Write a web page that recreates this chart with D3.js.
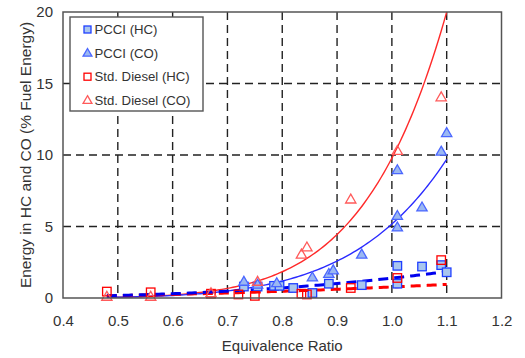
<!DOCTYPE html>
<html>
<head>
<meta charset="utf-8">
<script src="https://cdn.jsdelivr.net/npm/d3@7"></script>
<style>
  body { margin: 0; background: #fff; }
  svg { display: block; }
  text { font-family: "Liberation Sans", Arial, sans-serif; fill: #333; }
</style>
</head>
<body>
<svg id="chart" width="525" height="358"></svg>
<script>
// Axis ticks
const xTicks = [0.4, 0.5, 0.6, 0.7, 0.8, 0.9, 1.0, 1.1, 1.2];
const yTicks = [0, 5, 10, 15, 20];

// Measured points: [equivalence ratio, energy %]
const pcciHC = [
  [0.73, 0.8], [0.755, 0.8], [0.785, 0.85], [0.795, 0.85], [0.82, 0.7],
  [0.855, 0.35], [0.885, 1.0], [0.945, 0.9], [1.01, 2.25], [1.01, 1.0],
  [1.055, 2.2], [1.09, 2.3], [1.1, 1.8]
];
const pcciCO = [
  [0.73, 1.1], [0.755, 0.9], [0.79, 1.0], [0.855, 1.4], [0.885, 1.65],
  [0.893, 1.9], [0.945, 3.0], [1.01, 4.9], [1.01, 5.7], [1.01, 8.9],
  [1.055, 6.3], [1.09, 10.2], [1.1, 11.5]
];
const dieselHC = [
  [0.48, 0.45], [0.56, 0.4], [0.67, 0.3], [0.72, 0.25], [0.75, 0.15],
  [0.835, 0.3], [0.845, 0.25], [0.925, 0.7], [1.01, 1.4], [1.09, 2.65]
];
const dieselCO = [
  [0.48, 0.05], [0.56, 0.05], [0.67, 0.3], [0.755, 1.1], [0.835, 3.0],
  [0.845, 3.5], [0.925, 6.85], [1.01, 10.25], [1.09, 14.0]
];

// Power-law trendlines: value = k * (phi / 1.1)^n, drawn over phi range
const fitRange = [0.48, 1.1];
const fitPcciHC   = { k: 1.85, n: 3.0 };
const fitPcciCO   = { k: 9.7,  n: 6.6 };
const fitDieselHC = { k: 0.95, n: 2.2 };
const fitDieselCO = { k: 20.0, n: 7.5 };

const legendLabels = ["PCCI (HC)", "PCCI (CO)", "Std. Diesel (HC)", "Std. Diesel (CO)"];

const svg = d3.select("#chart");
const x = d3.scaleLinear().domain([0.4, 1.2]).range([63, 501.5]);
const y = d3.scaleLinear().domain([0, 20]).range([298, 12]);

// Grid
const grid = svg.append("g").attr("stroke", "#222").attr("stroke-width", 1.4)
  .attr("stroke-dasharray", "8,5");
grid.selectAll("line.v").data(xTicks.slice(1, -1)).join("line")
  .attr("x1", d => x(d)).attr("x2", d => x(d))
  .attr("y1", y(20)).attr("y2", y(0));
grid.selectAll("line.h").data(yTicks.slice(1, -1)).join("line")
  .attr("x1", x(0.4)).attr("x2", x(1.2))
  .attr("y1", d => y(d)).attr("y2", d => y(d));

// Trendlines
const plot = svg.append("g");
function fitCurve(f) {
  const pts = d3.range(fitRange[0], fitRange[1] + 1e-9, 0.005).map(p => [p, f.k * Math.pow(p / 1.1, f.n)]);
  return d3.line().x(d => x(d[0])).y(d => y(d[1]))(pts);
}
plot.append("path").attr("d", fitCurve(fitDieselCO)).attr("fill", "none")
  .attr("stroke", "#ff2a2a").attr("stroke-width", 1.4);
plot.append("path").attr("d", fitCurve(fitPcciCO)).attr("fill", "none")
  .attr("stroke", "#2a2aff").attr("stroke-width", 1.4);
plot.append("path").attr("d", fitCurve(fitDieselHC)).attr("fill", "none")
  .attr("stroke", "#ff0000").attr("stroke-width", 3).attr("stroke-dasharray", "10,6");
plot.append("path").attr("d", fitCurve(fitPcciHC)).attr("fill", "none")
  .attr("stroke", "#0000ee").attr("stroke-width", 3).attr("stroke-dasharray", "10,6");

// Markers
const sq = 8.5;
const tri = d3.symbol().type(d3.symbolTriangle).size(46);
const styles = {
  pcciHC:   { fill: "#a9c6ee", stroke: "#1f3fff" },
  pcciCO:   { fill: "#9bb8f2", stroke: "#4a66ff" },
  dieselHC: { fill: "none",    stroke: "#ff0000" },
  dieselCO: { fill: "none",    stroke: "#ff5a5a" }
};
function squares(data, s) {
  plot.append("g").selectAll("rect").data(data).join("rect")
    .attr("x", d => x(d[0]) - sq / 2).attr("y", d => y(d[1]) - sq / 2)
    .attr("width", sq).attr("height", sq)
    .attr("fill", s.fill).attr("stroke", s.stroke).attr("stroke-width", 1.3);
}
function triangles(data, s) {
  plot.append("g").selectAll("path").data(data).join("path")
    .attr("d", tri).attr("transform", d => `translate(${x(d[0])},${y(d[1])})`)
    .attr("fill", s.fill).attr("stroke", s.stroke).attr("stroke-width", 1.3);
}
squares(pcciHC, styles.pcciHC);
triangles(pcciCO, styles.pcciCO);
squares(dieselHC, styles.dieselHC);
triangles(dieselCO, styles.dieselCO);

// Plot frame
svg.append("rect").attr("x", x(0.4)).attr("y", y(20))
  .attr("width", x(1.2) - x(0.4)).attr("height", y(0) - y(20))
  .attr("fill", "none").attr("stroke", "#555").attr("stroke-width", 1.5);

// Axes
const xAxis = svg.append("g").attr("transform", `translate(0,${y(0)})`)
  .call(d3.axisBottom(x).tickValues(xTicks).tickFormat(d3.format(".1f")).tickSize(0).tickPadding(17));
const yAxis = svg.append("g").attr("transform", `translate(${x(0.4)},0)`)
  .call(d3.axisLeft(y).tickValues(yTicks).tickSize(0).tickPadding(10));
[xAxis, yAxis].forEach(a => {
  a.select(".domain").remove();
  a.selectAll("text").attr("font-size", 15).attr("fill", "#333")
    .style("font-family", '"Liberation Sans", Arial, sans-serif');
});

svg.append("text").attr("x", (x(0.4) + x(1.2)) / 2).attr("y", 351)
  .attr("text-anchor", "middle").attr("font-size", 15).text("Equivalence Ratio");
svg.append("text").attr("transform", `translate(31,${(y(0) + y(20)) / 2}) rotate(-90)`)
  .attr("text-anchor", "middle").attr("font-size", 15.5)
  .text("Energy in HC and CO (% Fuel Energy)");

// Legend
const lg = svg.append("g");
lg.append("rect").attr("x", 70).attr("y", 17).attr("width", 133).attr("height", 94)
  .attr("fill", "#fff").attr("stroke", "#555").attr("stroke-width", 1.4);
const legendStyle = [styles.pcciHC, styles.pcciCO, styles.dieselHC, styles.dieselCO];
const legendShape = ["sq", "tri", "sq", "tri"];
legendLabels.forEach((lab, i) => {
  const cy = 29.5 + i * 23.6;
  const s = legendStyle[i];
  if (legendShape[i] === "sq") {
    lg.append("rect").attr("x", 84).attr("y", cy - 3.5).attr("width", 7).attr("height", 7)
      .attr("fill", s.fill).attr("stroke", s.stroke).attr("stroke-width", 1.3);
  } else {
    lg.append("path").attr("d", d3.symbol().type(d3.symbolTriangle).size(34)())
      .attr("transform", `translate(87.5,${cy + 0.5})`)
      .attr("fill", s.fill).attr("stroke", s.stroke).attr("stroke-width", 1.3);
  }
  lg.append("text").attr("x", 94.5).attr("y", cy + 4.5).attr("font-size", 13.2)
    .attr("fill", "#222").text(lab);
});
</script>
</body>
</html>
